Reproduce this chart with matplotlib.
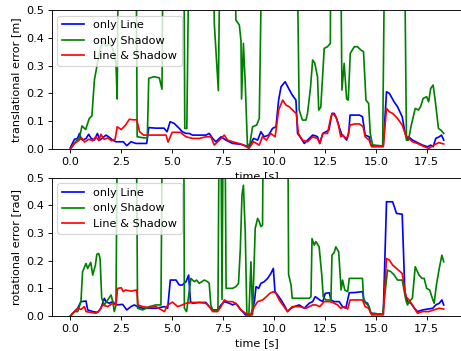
import numpy as np
import matplotlib
matplotlib.use("Agg")
import matplotlib.pyplot as plt

OFF = 1.2  # value above the visible range (line leaves the axes)

# translational error [m]
t_tl = [0.0, 0.2, 0.35, 0.45, 0.52, 0.6, 0.77, 0.9, 1.02, 1.18, 1.33, 1.45, 1.75, 1.88, 2.08, 2.24, 2.4, 2.6, 2.77, 2.98,
        3.22, 3.55, 3.75, 3.85, 4.2, 4.6, 4.75, 4.9, 5.1, 5.35, 5.5, 5.68, 5.84, 6.0, 6.66, 6.82, 6.99, 7.15, 7.4, 7.64,
        7.97, 8.38, 8.6, 8.77, 9.0, 9.2, 9.36, 9.52, 9.74, 9.93, 10.1, 10.23, 10.35, 10.55, 10.72, 10.9, 11.08, 11.16, 11.28, 11.49,
        11.65, 11.9, 12.06, 12.14, 12.25, 12.4, 12.55, 12.7, 12.85, 12.96, 13.08, 13.2, 13.34, 13.45, 13.57, 13.67, 13.74, 13.95, 14.2, 14.35,
        14.48, 14.68, 14.76, 15.0, 15.37, 15.53, 15.67, 15.9, 16.07, 16.3, 16.43, 16.53, 16.61, 16.81, 16.97, 17.13, 17.3, 17.55, 17.7, 17.82,
        17.95, 18.12, 18.23, 18.34]
trans_line = [0.005, 0.035, 0.038, 0.056, 0.038, 0.032, 0.038, 0.053, 0.038, 0.032, 0.056, 0.032, 0.050, 0.044, 0.032, 0.026, 0.026, 0.026, 0.012, 0.026,
              0.020, 0.020, 0.020, 0.077, 0.075, 0.075, 0.062, 0.098, 0.092, 0.074, 0.062, 0.056, 0.056, 0.050, 0.050, 0.056, 0.038, 0.026, 0.044, 0.032,
              0.020, 0.017, 0.012, 0.008, 0.038, 0.032, 0.062, 0.044, 0.050, 0.074, 0.080, 0.176, 0.224, 0.242, 0.218, 0.194, 0.176, 0.056, 0.044, 0.020,
              0.032, 0.050, 0.047, 0.044, 0.020, 0.056, 0.062, 0.068, 0.128, 0.128, 0.110, 0.080, 0.050, 0.044, 0.032, 0.056, 0.122, 0.122, 0.122, 0.116,
              0.050, 0.044, 0.014, 0.012, 0.011, 0.206, 0.200, 0.170, 0.152, 0.116, 0.062, 0.032, 0.044, 0.032, 0.026, 0.020, 0.014, 0.008, 0.014, 0.008,
              0.038, 0.044, 0.050, 0.032]

t_tb = [0.0, 0.2, 0.4, 0.55, 0.7, 0.9, 1.1, 1.25, 1.4, 1.5, 1.65, 1.85, 2.0, 2.2, 2.3, 2.5, 2.7, 2.9, 3.1, 3.26,
        3.4, 3.6, 4.0, 4.4, 4.7, 4.8, 5.0, 5.4, 5.68, 6.0, 6.33, 6.66, 6.9, 7.07, 7.32, 7.56, 7.72, 7.97, 8.38, 8.6,
        8.77, 9.0, 9.28, 9.43, 9.63, 9.84, 10.06, 10.23, 10.43, 10.59, 10.75, 11.0, 11.1, 11.2, 11.4, 11.65, 11.9, 12.14, 12.25, 12.4,
        12.63, 12.8, 12.88, 13.04, 13.17, 13.28, 13.4, 13.5, 13.62, 13.74, 13.95, 14.2, 14.38, 14.48, 14.68, 14.8, 15.37, 15.53, 15.67, 15.83,
        16.07, 16.3, 16.47, 16.63, 16.8, 17.05, 17.3, 17.6, 17.85, 18.1, 18.34]
trans_both = [0.0, 0.02, 0.03, 0.04, 0.025, 0.035, 0.03, 0.045, 0.03, 0.053, 0.035, 0.04, 0.03, 0.035, 0.08, 0.07, 0.085, 0.107, 0.105, 0.105,
              0.062, 0.05, 0.05, 0.05, 0.05, 0.025, 0.06, 0.06, 0.044, 0.038, 0.038, 0.044, 0.044, 0.014, 0.032, 0.050, 0.032, 0.026, 0.018, 0.010,
              0.002, 0.026, 0.014, 0.044, 0.032, 0.056, 0.044, 0.140, 0.176, 0.158, 0.152, 0.134, 0.128, 0.056, 0.032, 0.026, 0.044, 0.038, 0.020, 0.056,
              0.056, 0.116, 0.128, 0.116, 0.086, 0.044, 0.050, 0.038, 0.044, 0.086, 0.090, 0.090, 0.080, 0.044, 0.032, 0.008, 0.008, 0.146, 0.134, 0.128,
              0.110, 0.086, 0.050, 0.038, 0.026, 0.020, 0.011, 0.002, 0.014, 0.023, 0.018]

t_ts = [0.0, 0.3, 0.45, 0.57, 0.75, 0.93, 1.06, 1.18, 1.26, 1.42, 1.6, 1.75, 1.9, 2.08, 2.24, 2.3, 2.4, 3.2, 3.28, 3.6,
        3.78, 3.85, 4.1, 4.37, 4.5, 4.6, 5.55, 5.62, 5.72, 5.9, 6.95, 7.07, 7.27, 7.42, 8.0, 8.13, 8.3, 8.38, 8.41, 8.5,
        8.59, 8.7, 8.82, 8.95, 9.15, 9.28, 9.5, 11.05, 11.24, 11.4, 11.57, 11.65, 11.8, 11.9, 12.0, 12.14, 12.2, 12.3, 12.47, 12.63,
        12.77, 12.82, 13.22, 13.34, 13.45, 13.57, 13.65, 13.75, 13.95, 14.1, 14.27, 14.4, 14.52, 14.65, 14.73, 14.85, 15.34, 15.5, 16.35, 16.51,
        16.61, 16.73, 16.94, 17.1, 17.2, 17.33, 17.5, 17.6, 17.7, 17.82, 17.92, 18.08, 18.2, 18.34]
trans_shadow = [0.0, 0.03, 0.04, 0.083, 0.07, 0.11, 0.12, 0.248, 0.28, 0.344, 0.386, 0.37, 0.38, 0.36, 0.308, 0.18, OFF, OFF, 0.044, 0.04,
                0.04, 0.254, 0.26, 0.256, 0.215, OFF, OFF, 0.074, 0.074, OFF, OFF, 0.452, 0.21, OFF, OFF, 0.464, 0.446, 0.39, 0.18, 0.38,
                0.236, 0.008, 0.02, 0.08, 0.086, 0.11, OFF, OFF, 0.14, 0.104, 0.104, 0.128, 0.224, 0.32, 0.31, 0.26, 0.14, 0.15, 0.362, 0.368,
                0.38, OFF, OFF, 0.212, 0.308, 0.18, 0.176, 0.344, 0.368, 0.368, 0.356, 0.35, 0.176, 0.164, 0.056, 0.014, 0.011, OFF, OFF, 0.032,
                0.032, 0.08, 0.146, 0.14, 0.152, 0.182, 0.188, 0.17, 0.218, 0.23, 0.176, 0.074, 0.068, 0.056]

# rotational error [rad]
t_rl = [0.0, 0.2, 0.36, 0.52, 0.77, 0.85, 1.1, 1.34, 1.5, 1.67, 1.75, 1.91, 2.08, 2.24, 2.57, 2.77, 2.98, 3.14, 3.3, 3.55,
        4.2, 4.62, 4.78, 4.91, 5.19, 5.35, 5.5, 5.68, 5.81, 5.9, 6.0, 6.33, 6.66, 6.82, 6.99, 7.23, 7.4, 7.56, 7.81, 7.97,
        8.13, 8.3, 8.46, 8.6, 8.87, 9.04, 9.12, 9.25, 9.36, 9.52, 9.69, 9.85, 9.97, 10.05, 10.18, 10.35, 10.5, 10.67, 10.84, 11.0,
        11.24, 11.49, 11.73, 11.9, 12.03, 12.14, 12.25, 12.4, 12.52, 12.72, 12.8, 12.96, 13.2, 13.37, 13.53, 13.7, 14.0, 14.35, 14.43, 14.6,
        14.76, 15.37, 15.53, 15.83, 16.02, 16.3, 16.43, 16.56, 16.73, 16.9, 17.05, 17.3, 17.55, 17.8, 17.95, 18.12, 18.25, 18.34]
rot_line = [0.0, 0.016, 0.028, 0.052, 0.054, 0.022, 0.016, 0.013, 0.028, 0.064, 0.052, 0.046, 0.052, 0.040, 0.042, 0.022, 0.034, 0.040, 0.034, 0.028,
            0.028, 0.034, 0.028, 0.130, 0.130, 0.112, 0.112, 0.124, 0.148, 0.052, 0.046, 0.049, 0.049, 0.034, 0.022, 0.022, 0.040, 0.052, 0.046, 0.040,
            0.046, 0.028, 0.016, 0.004, 0.004, 0.052, 0.106, 0.100, 0.118, 0.124, 0.136, 0.154, 0.172, 0.088, 0.076, 0.058, 0.040, 0.016, 0.028, 0.034,
            0.040, 0.028, 0.046, 0.052, 0.070, 0.064, 0.058, 0.052, 0.082, 0.084, 0.058, 0.052, 0.052, 0.034, 0.028, 0.084, 0.085, 0.088, 0.052, 0.046,
            0.010, 0.006, 0.413, 0.413, 0.371, 0.368, 0.088, 0.052, 0.046, 0.028, 0.016, 0.022, 0.025, 0.028, 0.040, 0.046, 0.058, 0.040]

t_rb = [0.0, 0.2, 0.36, 0.52, 0.69, 0.77, 1.0, 1.26, 1.42, 1.59, 1.83, 2.08, 2.24, 2.32, 2.5, 2.6, 2.7, 2.98, 3.26, 3.32,
        3.55, 3.88, 4.2, 4.62, 4.78, 5.02, 5.27, 5.5, 5.68, 6.0, 6.33, 6.66, 6.82, 6.99, 7.23, 7.4, 7.56, 7.72, 7.97, 8.21,
        8.38, 8.6, 8.87, 9.04, 9.2, 9.44, 9.63, 9.8, 9.97, 10.1, 10.26, 10.43, 10.67, 10.9, 11.24, 11.57, 11.9, 12.06, 12.25, 12.47,
        12.72, 12.88, 13.13, 13.28, 13.45, 13.62, 13.74, 14.0, 14.35, 14.48, 14.65, 14.8, 15.37, 15.53, 15.67, 15.83, 16.02, 16.3, 16.48, 16.64,
        16.9, 17.05, 17.3, 17.6, 17.85, 18.12, 18.34]
rot_both = [0.0, 0.016, 0.028, 0.024, 0.034, 0.016, 0.013, 0.010, 0.019, 0.040, 0.034, 0.046, 0.040, 0.100, 0.102, 0.088, 0.094, 0.090, 0.094, 0.040,
            0.034, 0.030, 0.034, 0.016, 0.040, 0.050, 0.034, 0.040, 0.046, 0.049, 0.049, 0.046, 0.034, 0.016, 0.016, 0.034, 0.058, 0.052, 0.052, 0.040,
            0.022, 0.010, 0.004, 0.034, 0.052, 0.058, 0.070, 0.082, 0.088, 0.082, 0.058, 0.040, 0.016, 0.034, 0.034, 0.028, 0.040, 0.040, 0.034, 0.052,
            0.052, 0.049, 0.040, 0.028, 0.034, 0.025, 0.058, 0.058, 0.058, 0.034, 0.028, 0.004, 0.004, 0.208, 0.202, 0.184, 0.172, 0.154, 0.070, 0.058,
            0.028, 0.010, 0.016, 0.016, 0.022, 0.028, 0.025]

t_rs = [0.0, 0.2, 0.36, 0.52, 0.6, 0.77, 0.85, 1.0, 1.1, 1.23, 1.3, 1.39, 1.46, 1.54, 1.67, 1.83, 2.0, 2.08, 2.16, 2.24,
        2.36, 3.2, 3.3, 3.55, 3.88, 4.2, 4.45, 4.57, 5.55, 5.6, 5.71, 5.92, 6.09, 6.2, 6.33, 6.58, 6.74, 6.82, 6.9, 7.0,
        7.25, 7.35, 7.45, 7.55, 7.65, 7.72, 7.97, 8.13, 8.26, 8.35, 8.43, 8.5, 8.59, 8.67, 8.77, 8.87, 8.95, 9.08, 9.2, 9.28,
        9.36, 9.44, 9.52, 10.65, 10.72, 10.84, 10.9, 11.24, 11.73, 11.82, 11.87, 11.98, 12.06, 12.22, 12.35, 12.42, 12.55, 12.8, 12.85, 12.96,
        13.04, 13.18, 13.3, 13.37, 13.48, 13.62, 13.7, 14.0, 14.35, 14.4, 14.52, 14.68, 14.76, 15.34, 15.58, 15.75, 15.91, 16.07, 16.3, 16.48,
        16.56, 16.64, 16.8, 16.94, 17.05, 17.13, 17.27, 17.38, 17.5, 17.65, 17.78, 17.87, 17.98, 18.12, 18.25, 18.34]
rot_shadow = [0.0, 0.016, 0.016, 0.052, 0.160, 0.190, 0.172, 0.194, 0.148, 0.184, 0.223, 0.226, 0.208, 0.064, 0.040, 0.058, 0.076, 0.052, 0.016, 0.040,
              OFF, OFF, 0.028, 0.022, 0.034, 0.040, 0.040, OFF, OFF, 0.028, 0.016, 0.136, 0.124, 0.130, 0.118, 0.130, 0.124, 0.118, 0.040, 0.020,
              0.020, OFF, 0.060, OFF, 0.100, 0.100, 0.100, 0.106, 0.118, 0.245, 0.437, 0.473, 0.305, 0.004, 0.004, 0.196, 0.004, 0.317, 0.353, 0.341,
              0.323, 0.329, OFF, OFF, 0.150, 0.112, 0.064, 0.064, 0.064, 0.070, 0.280, 0.256, 0.269, 0.250, 0.148, 0.070, 0.058, 0.058, 0.220, 0.230,
              0.250, 0.232, 0.094, 0.130, 0.094, 0.088, 0.136, 0.136, 0.136, 0.064, 0.046, 0.034, 0.010, 0.006, 0.166, 0.160, 0.148, 0.130, 0.130, 0.058,
              0.040, 0.052, 0.064, 0.178, 0.160, 0.148, 0.136, 0.136, 0.100, 0.094, 0.064, 0.046, 0.112, 0.172, 0.220, 0.196]

DPI = 81
fig = plt.figure(figsize=(461 / DPI, 351 / DPI), dpi=DPI)
ax1 = fig.add_axes([0.112, 0.5755, 0.8916, 0.396])
ax2 = fig.add_axes([0.112, 0.0997, 0.8916, 0.394])

ax1.plot(t_tl, trans_line, color="blue", label="only Line")
ax1.plot(t_ts, trans_shadow, color="green", label="only Shadow")
ax1.plot(t_tb, trans_both, color="red", label="Line & Shadow")
ax1.set_ylabel("translational error [m]")

ax2.plot(t_rl, rot_line, color="blue", label="only Line")
ax2.plot(t_rs, rot_shadow, color="green", label="only Shadow")
ax2.plot(t_rb, rot_both, color="red", label="Line & Shadow")
ax2.set_ylabel("rotational error [rad]")

for ax in (ax1, ax2):
    ax.set_xlim(-0.92, 19.27)
    ax.set_ylim(0, 0.5)
    ax.set_xlabel("time [s]")
    ax.legend(loc="upper left")

fig.savefig("out.png", dpi=DPI)
